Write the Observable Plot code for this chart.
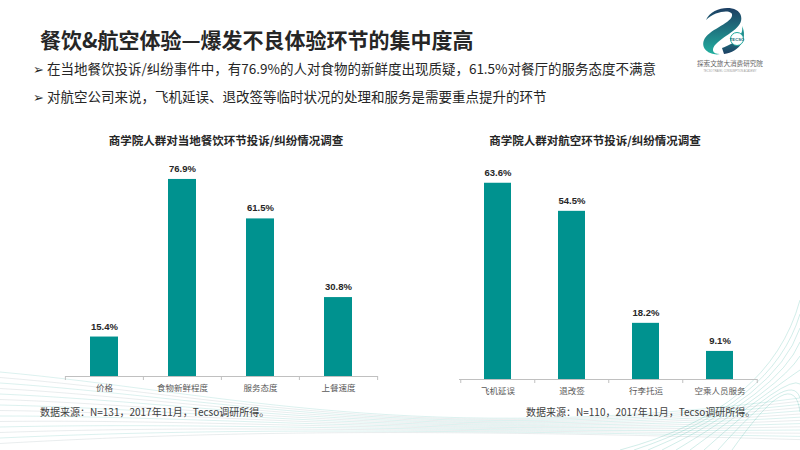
<!DOCTYPE html>
<html><head><meta charset="utf-8">
<script src="https://cdn.jsdelivr.net/npm/d3@7"></script>
<script src="https://cdn.jsdelivr.net/npm/@observablehq/plot@0.6"></script>
<style>
body{margin:0;background:#fff;}
#page{position:relative;width:800px;height:450px;overflow:hidden;font-family:"Noto Sans CJK SC","Noto Sans",sans-serif;background:#fff;}
.abs{position:absolute;white-space:nowrap;line-height:1;}
#deco{position:absolute;left:0;top:0;}
</style></head><body>
<div id="page">
<svg id="deco" width="800" height="450"></svg>
<div class="abs" style="left:40px;top:29px;font-size:21px;font-weight:bold;color:#262626;">餐饮&amp;航空体验—爆发不良体验环节的集中度高</div>
<div class="abs" style="left:33px;top:62px;font-size:13.5px;color:#262626;"><span style="font-family:'DejaVu Sans';font-size:13px;">➢</span> 在当地餐饮投诉/纠纷事件中，有76.9%的人对食物的新鲜度出现质疑，61.5%对餐厅的服务态度不满意</div>
<div class="abs" style="left:33px;top:90px;font-size:13.5px;color:#262626;"><span style="font-family:'DejaVu Sans';font-size:13px;">➢</span> 对航空公司来说，飞机延误、退改签等临时状况的处理和服务是需要重点提升的环节</div>
<div class="abs" id="t1" style="left:226px;top:135px;font-size:11.5px;font-weight:bold;color:#262626;transform:translateX(-50%);"></div>
<div class="abs" id="t2" style="left:595px;top:135px;font-size:11.5px;font-weight:bold;color:#262626;transform:translateX(-50%);"></div>
<div class="abs" id="c1" style="left:45px;top:150px;"></div>
<div class="abs" id="c2" style="left:440px;top:150px;"></div>
<div class="abs" id="f1" style="left:40px;top:407px;font-size:10px;color:#404040;"></div>
<div class="abs" id="f2" style="left:526px;top:407px;font-size:10px;color:#404040;"></div>
</div>
<script>
// ---- data ----
const foodCats = ["价格", "食物新鲜程度", "服务态度", "上餐速度"];
const foodVals = [15.4, 76.9, 61.5, 30.8];
const airCats = ["飞机延误", "退改签", "行李托运", "空乘人员服务"];
const airVals = [63.6, 54.5, 18.2, 9.1];
const foodTitle = "商学院人群对当地餐饮环节投诉/纠纷情况调查";
const airTitle = "商学院人群对航空环节投诉/纠纷情况调查";
const foodNote = "数据来源：N=131，2017年11月，Tecso调研所得。";
const airNote = "数据来源：N=110，2017年11月，Tecso调研所得。";

document.getElementById("t1").textContent = foodTitle;
document.getElementById("t2").textContent = airTitle;
document.getElementById("f1").textContent = foodNote;
document.getElementById("f2").textContent = airNote;

const TEAL = "#00928f";
const AXIS = "#c0c0c0";

function barChart(cats, vals, o) {
  const data = cats.map((c, i) => ({cat: c, value: vals[i]}));
  const step = (o.width - o.marginLeft - o.marginRight) / cats.length;
  const plotH = o.height - o.marginTop - o.marginBottom;
  const tickLen = -4 * o.yMax / plotH;
  return Plot.plot({
    width: o.width, height: o.height,
    marginLeft: o.marginLeft, marginRight: o.marginRight,
    marginTop: o.marginTop, marginBottom: o.marginBottom,
    style: {background: "none", overflow: "visible", fontFamily: "'Noto Sans CJK SC', sans-serif"},
    x: {domain: cats, paddingInner: 0.64, paddingOuter: 0.32},
    y: {domain: [0, o.yMax], axis: null},
    marks: [
      Plot.barY(data, {x: "cat", y: "value", fill: TEAL}),
      Plot.ruleY([0], {stroke: AXIS, strokeWidth: 1}),
      Plot.ruleX(cats, {x: d => d, y1: 0, y2: tickLen, dx: -step / 2, stroke: AXIS}),
      Plot.ruleX([cats[cats.length - 1]], {x: d => d, y1: 0, y2: tickLen, dx: step / 2, stroke: AXIS}),
      Plot.text(data, {x: "cat", y: "value", text: d => d.value.toFixed(1) + "%", dy: -10.5,
        fontWeight: "bold", fontSize: 9.5, fill: "#262626", fontFamily: "'Liberation Sans', Arial, sans-serif"}),
      Plot.axisX({tickSize: 0, tickPadding: 8, fontSize: 8.5, fill: "#595959", label: null})
    ]
  });
}

document.getElementById("c1").appendChild(barChart(foodCats, foodVals,
  {width: 345, height: 250, marginLeft: 20, marginRight: 12, marginTop: 21, marginBottom: 24, yMax: 80}));
document.getElementById("c2").appendChild(barChart(airCats, airVals,
  {width: 330, height: 253, marginLeft: 19, marginRight: 13, marginTop: 13, marginBottom: 24, yMax: 70}));

// ---- decoration (background waves + logo) ----
const deco = d3.select("#deco");
const defs = deco.append("defs");
const g1 = defs.append("linearGradient").attr("id", "lg").attr("x1", 0).attr("y1", 0).attr("x2", 0).attr("y2", 1);
g1.append("stop").attr("offset", "0%").attr("stop-color", "#1fa89c");
g1.append("stop").attr("offset", "100%").attr("stop-color", "#1d3f63");
const g2 = defs.append("linearGradient").attr("id", "lg2").attr("x1", 0).attr("y1", 0).attr("x2", 0).attr("y2", 1);
g2.append("stop").attr("offset", "0%").attr("stop-color", "#1d3f63");
g2.append("stop").attr("offset", "100%").attr("stop-color", "#22b0a0");

const waves = deco.append("g").attr("fill", "none").attr("stroke-width", 0.6);
for (let i = 0; i < 14; i++) {
  waves.append("path")
    .attr("d", `M0,${372 + i * 5.5} C220,${392 + i * 3} 420,${448 - i * 1.5} 800,${398 + i * 3.2}`)
    .attr("stroke", i % 2 ? "rgba(150,170,175,0.35)" : "rgba(40,170,160,0.28)");
}
for (let i = 0; i < 9; i++) {
  waves.append("path")
    .attr("d", `M${620 + i * 14},450 Q${770 + i * 3},${410 - i * 6} ${800},${300 + i * 14}`)
    .attr("stroke", "rgba(40,170,150,0.35)");
}

const logo = deco.append("g");
logo.append("path")
  .attr("d", "M706,20 C712,6 738,4 741,16 C744,28 726,34 716,44 C711,49 712,54 720,54 C712,56 700,50 704,40 C708,30 730,24 732,16 C734,9 716,10 706,20 Z")
  .attr("fill", "url(#lg2)");
logo.append("path")
  .attr("d", "M722,48 C734,44 744,36 742,26 C748,38 740,52 724,54 Z")
  .attr("fill", "url(#lg)");
logo.append("circle").attr("cx", 737).attr("cy", 39).attr("r", 6.5).attr("fill", "#fff").attr("stroke", "#1fa89c").attr("stroke-width", 1);
logo.append("text").attr("x", 737).attr("y", 40.5).attr("text-anchor", "middle").attr("font-size", 4.2)
  .attr("font-weight", "bold").attr("fill", "#1d6f7a").attr("font-family", "'Liberation Sans', sans-serif").text("TECSO");
logo.append("text").attr("x", 730).attr("y", 66).attr("text-anchor", "middle").attr("font-size", 6.6)
  .attr("fill", "#666").attr("font-family", "'Noto Sans CJK SC', sans-serif").text("探索文旅大消费研究院");
logo.append("text").attr("x", 730).attr("y", 71.5).attr("text-anchor", "middle").attr("font-size", 2.6)
  .attr("fill", "#999").attr("font-family", "'Liberation Sans', sans-serif").text("TECSO TRAVEL CONSUMPTION ACADEMY");
</script>
</body></html>
